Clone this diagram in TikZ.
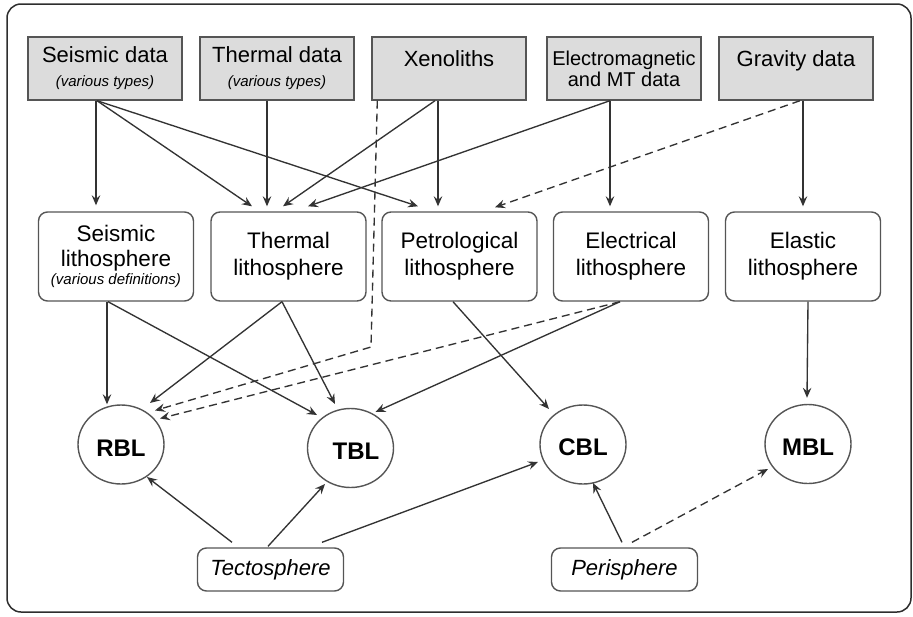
\documentclass[tikz,border=0pt]{standalone}
\usepackage{fontspec}
\setmainfont{Liberation Sans}
\usetikzlibrary{shapes.geometric,arrows.meta}
\definecolor{linegray}{HTML}{333333}
\definecolor{boxgray}{HTML}{555555}
\definecolor{fillgray}{HTML}{DCDCDC}
\definecolor{framecol}{HTML}{2E2E2E}
\begin{document}
\begin{tikzpicture}[x=1pt,y=-1pt,
  databox/.style={draw=boxgray, fill=fillgray, line width=1.4pt, minimum width=154pt, minimum height=63pt, inner sep=0pt, align=center, font=\fontsize{22}{26}\selectfont},
  lithbox/.style={draw=boxgray, rounded corners=9pt, line width=1.4pt, minimum width=155pt, minimum height=89pt, inner sep=0pt, align=center, font=\fontsize{22.5}{27}\selectfont},
  blcirc/.style={ellipse, draw=boxgray, line width=1.4pt, minimum width=86pt, minimum height=79pt, inner sep=0pt, text height=23pt, font=\bfseries\fontsize{24}{28}\selectfont},
  spherebox/.style={draw=boxgray, rounded corners=9pt, line width=1.4pt, minimum width=146pt, minimum height=43pt, inner sep=0pt, font=\itshape\fontsize{22}{26}\selectfont},
  conn/.style={draw=linegray, line width=1.35pt, -{Stealth[length=10pt,width=8.5pt,inset=3.5pt]}},
  dconn/.style={conn, dash pattern=on 8pt off 5pt},
  framest/.style={draw=framecol, line width=1.5pt, rounded corners=14pt}]
\useasboundingbox (0,0) rectangle (913,616);
\draw[framest] (7,4) rectangle (911,612);

% data boxes
\node[databox] (sd) at (105,68.5) {Seismic data\\[-2pt]{\itshape\fontsize{15}{18}\selectfont (various types)}};
\node[databox] (td) at (277,68.5) {Thermal data\\[-2pt]{\itshape\fontsize{15}{18}\selectfont (various types)}};
\node[databox, text depth=19pt] (xe) at (449,68.5) {Xenoliths};
\node[databox, font=\fontsize{20}{21}\selectfont] (em) at (624,68.5) {Electromagnetic\\and MT data};
\node[databox, text depth=19pt] (gd) at (796,68.5) {Gravity data};

% lithosphere boxes
\node[lithbox] (sl) at (116,256.5) {Seismic\\[-2pt]lithosphere\\[-9pt]{\itshape\fontsize{15}{18}\selectfont (various definitions)}};
\node[lithbox] (tl) at (288.5,256.5) {Thermal\\lithosphere};
\node[lithbox] (pl) at (459.5,256.5) {Petrological\\lithosphere};
\node[lithbox] (el) at (631,256.5) {Electrical\\lithosphere};
\node[lithbox] (al) at (803,256.5) {Elastic\\lithosphere};

% boundary layers
\node[blcirc] (rbl) at (121,444.5) {RBL};
\node[blcirc] (tbl) at (350.5,448) {\hspace*{11pt}TBL};
\node[blcirc] (cbl) at (583,444.5) {CBL};
\node[blcirc] (mbl) at (808,444) {MBL};

% spheres
\node[spherebox] (tec) at (270.5,569.5) {Tectosphere};
\node[spherebox] (per) at (624.5,569.5) {Perisphere};

\coordinate (xcorner) at (371,347);

% data -> lithosphere
\draw[conn] ([xshift=-9pt]sd.south) -- ([xshift=-20pt,yshift=6pt]sl.north);
\draw[conn] ([xshift=-8pt]sd.south) -- ([xshift=-36.5pt,yshift=5pt]tl.north);
\draw[conn] ([xshift=-8pt]sd.south) -- ([xshift=-41.5pt,yshift=5pt]pl.north);
\draw[conn] ([xshift=-10pt]td.south) -- ([xshift=-21.5pt,yshift=5pt]tl.north);
\draw[conn] ([xshift=-14pt]xe.south) -- ([xshift=-5.5pt,yshift=5pt]tl.north);
\draw[conn] ([xshift=-11pt]xe.south) -- ([xshift=-21.5pt,yshift=5pt]pl.north);
\draw[conn] ([xshift=-14pt]em.south) -- ([xshift=19.5pt,yshift=5pt]tl.north);
\draw[conn] ([xshift=-14pt]em.south) -- ([xshift=-21pt,yshift=5pt]el.north);
\draw[dconn] ([xshift=4pt]gd.south) -- ([xshift=35.5pt,yshift=4pt]pl.north);
\draw[conn] ([xshift=7pt]gd.south) -- ([yshift=5pt]al.north);

% xenoliths dashed to RBL
\draw[dconn] ([xshift=6pt]xe.south west) -- (xcorner) -- ([xshift=34pt,yshift=34pt]rbl.center);

% lithosphere -> boundary layers
\draw[dconn] ([xshift=-11pt]el.south) -- ([xshift=39pt,yshift=26pt]rbl.center);
\draw[conn] ([xshift=-11pt]el.south) -- ([xshift=25pt,yshift=36pt]tbl.center);
\draw[conn] ([xshift=-9pt]sl.south) -- ([xshift=-14pt]rbl.north);
\draw[conn] ([xshift=-8pt]sl.south) -- ([xshift=-33.5pt,yshift=33pt]tbl.center);
\draw[conn] ([xshift=-6.5pt]tl.south) -- ([xshift=29pt,yshift=41.5pt]rbl.center);
\draw[conn] ([xshift=-6.5pt]tl.south) -- ([xshift=-15.5pt,yshift=44pt]tbl.center);
\draw[conn] ([xshift=-6.5pt]pl.south) -- ([xshift=-34pt,yshift=35.5pt]cbl.center);
\draw[conn] ([xshift=5pt]al.south) -- ([xshift=-1pt,yshift=6pt]mbl.north);

% spheres -> boundary layers
\draw[conn] ([xshift=-38.5pt,yshift=5pt]tec.north) -- ([xshift=26pt,yshift=-32.5pt]rbl.center);
\draw[conn] ([xshift=-2.5pt,yshift=1pt]tec.north) -- ([xshift=-25.5pt,yshift=-36pt]tbl.center);
\draw[conn] ([xshift=51.5pt,yshift=5pt]tec.north) -- ([xshift=-45pt,yshift=-17.5pt]cbl.center);
\draw[conn] ([xshift=-2.5pt,yshift=5pt]per.north) -- ([xshift=10pt,yshift=-38.5pt]cbl.center);
\draw[dconn] ([xshift=7.5pt,yshift=5pt]per.north) -- ([xshift=-40pt,yshift=-25pt]mbl.center);
\end{tikzpicture}
\end{document}
